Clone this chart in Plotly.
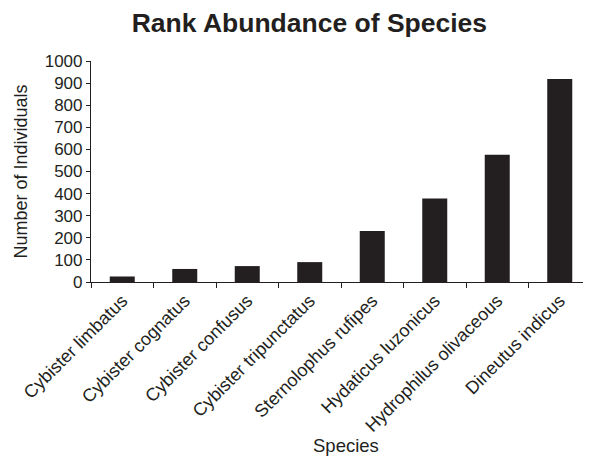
import plotly.graph_objects as go

species = ["Cybister limbatus", "Cybister cognatus", "Cybister confusus",
           "Cybister tripunctatus", "Sternolophus rufipes", "Hydaticus luzonicus",
           "Hydrophilus olivaceous", "Dineutus indicus"]
individuals = [25, 59, 72, 90, 231, 378, 576, 918]
y_ticks = list(range(0, 1001, 100))

ink = "#231f20"
font = "Liberation Sans, Arial, sans-serif"

fig = go.Figure(go.Bar(x=species, y=individuals, marker=dict(color=ink, line=dict(width=0)), width=0.4))

fig.update_layout(
    width=591, height=456,
    margin=dict(l=83, r=8, t=53, b=182),
    paper_bgcolor="white", plot_bgcolor="white",
    showlegend=False,
    font=dict(family=font, color=ink),
    title=dict(text="<b>Rank Abundance of Species</b>", x=0.51, xanchor="center",
               y=0.967, yanchor="middle", font=dict(size=26.5, color=ink, family=font)),
    annotations=[dict(text="Species", xref="paper", yref="paper", x=0.51, y=-0.738,
                      xanchor="center", yanchor="middle", showarrow=False,
                      font=dict(size=18.5, color=ink, family=font))],
)
fig.update_yaxes(range=[0, 1000], tickvals=y_ticks, showgrid=False, zeroline=False,
                 automargin=False,
                 showline=True, linecolor=ink, linewidth=1.2,
                 ticks="outside", ticklen=4, tickcolor=ink, tickwidth=1.2,
                 tickfont=dict(size=17, color=ink),
                 title=dict(text="Number of Individuals", font=dict(size=18, color=ink), standoff=12))
fig.update_xaxes(showgrid=False, showline=True, linecolor=ink, linewidth=1.2,
                 automargin=False,
                 ticks="outside", ticklen=5, tickcolor=ink, tickwidth=1.2, tickson="boundaries",
                 tickangle=-45, tickfont=dict(size=18, color=ink))

fig.write_html("out.html")
